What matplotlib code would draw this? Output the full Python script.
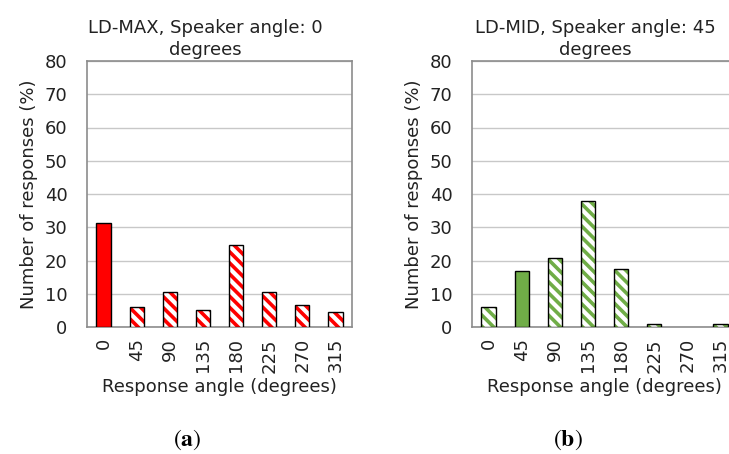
import numpy as np
import matplotlib
matplotlib.use('Agg')
import matplotlib.pyplot as plt

# === Data ===
angles = ['0', '45', '90', '135', '180', '225', '270', '315']
ld_max = [31.2, 6.0, 10.6, 5.2, 24.6, 10.6, 6.7, 4.4]
ld_mid = [6.0, 16.7, 20.7, 38.0, 17.3, 0.8, 0.0, 0.8]
speaker_max = 0   # index of solid (speaker) bar
speaker_mid = 1

plt.rcParams['font.family'] = 'DejaVu Sans'
plt.rcParams['mathtext.fontset'] = 'stix'
plt.rcParams['hatch.linewidth'] = 2.6

FS = 13

fig = plt.figure(figsize=(7.29, 4.54), dpi=100)
ax1 = fig.add_axes([87 / 729, 1 - 327 / 454, 265 / 729, 266 / 454])
ax2 = fig.add_axes([472 / 729, 1 - 327 / 454, 265 / 729, 266 / 454])


def draw_panel(ax, vals, color, solid_idx):
    x = np.arange(len(vals))
    w = 0.43
    for i, v in enumerate(vals):
        if v <= 0:
            continue
        if i == solid_idx:
            ax.bar(x[i], v, w, color=color, edgecolor='black', linewidth=1.0, zorder=3)
        else:
            # hatch layer, then black outline on top
            ax.bar(x[i], v, w, facecolor='white', edgecolor=color, hatch='\\' * 3,
                   linewidth=0, zorder=3)
            ax.bar(x[i], v, w, facecolor='none', edgecolor='black', linewidth=1.0, zorder=4)
    ax.set_xlim(-0.5, len(vals) - 0.5)
    ax.set_ylim(0, 80)
    ax.set_yticks(range(0, 81, 10))
    ax.set_xticks(x)
    ax.set_xticklabels(angles, rotation=90, fontsize=FS, color='#222222')
    ax.tick_params(axis='y', labelsize=FS, colors='#222222', length=0, pad=14)
    ax.tick_params(axis='x', length=0, pad=8)
    ax.grid(axis='y', color='#c8c8c8', linewidth=1.0, zorder=0)
    ax.set_axisbelow(True)
    for s in ax.spines.values():
        s.set_color('#8c8c8c')
        s.set_linewidth(1.2)
    ax.set_ylabel('Number of responses (%)', fontsize=FS, color='#222222', labelpad=5)
    ax.set_xlabel('Response angle (degrees)', fontsize=FS, color='#222222', labelpad=4)


draw_panel(ax1, ld_max, '#ff0000', speaker_max)
draw_panel(ax2, ld_mid, '#70ad47', speaker_mid)

fig.text(205 / 729, 1 - 39 / 454, 'LD-MAX, Speaker angle: 0\ndegrees', ha='center', va='center',
         fontsize=FS, color='#222222', linespacing=1.3)
fig.text(595 / 729, 1 - 39 / 454, 'LD-MID, Speaker angle: 45\ndegrees', ha='center', va='center',
         fontsize=FS, color='#222222', linespacing=1.3)

fig.text(187 / 729, 1 - 440 / 454, r'$(\mathbf{a})$', ha='center', va='center', fontsize=17)
fig.text(568 / 729, 1 - 440 / 454, r'$(\mathbf{b})$', ha='center', va='center', fontsize=17)

fig.savefig('out.png', dpi=100)
